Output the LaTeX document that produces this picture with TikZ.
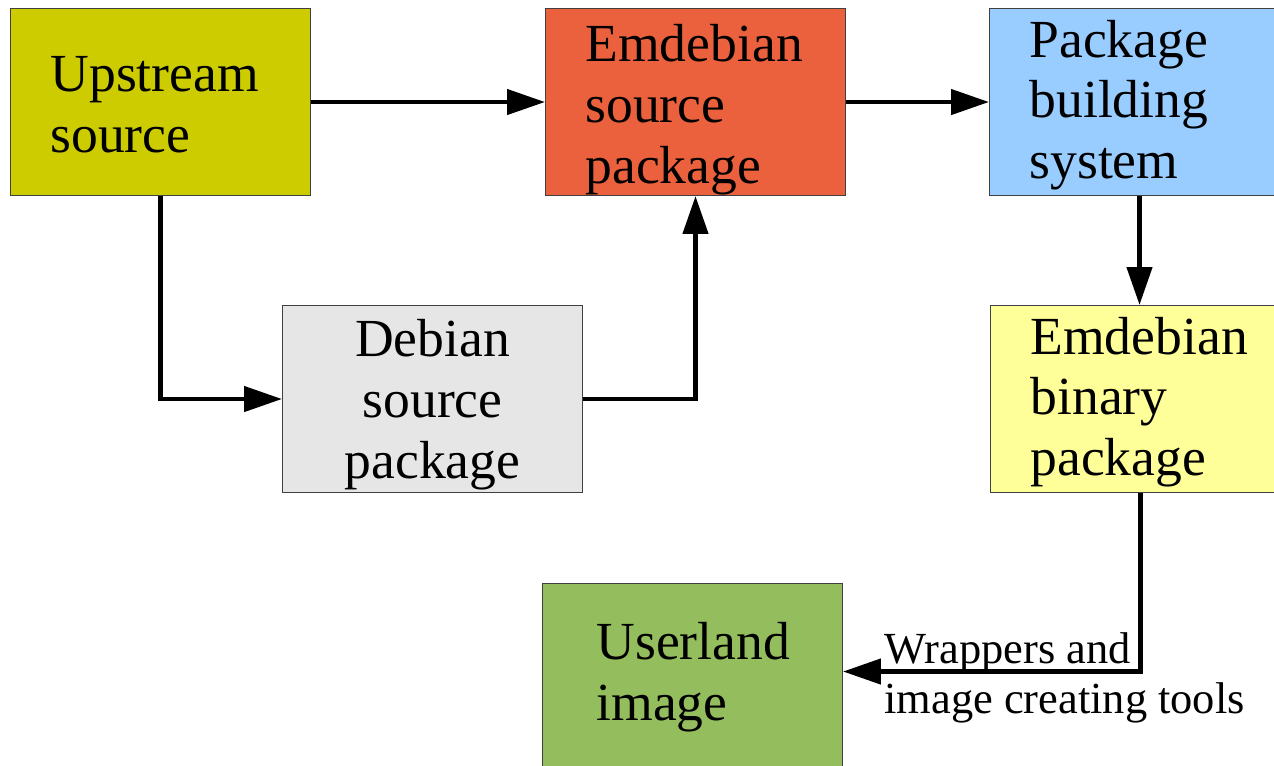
\documentclass[tikz,border=0pt]{standalone}
\usepackage{fontspec}
\setmainfont{Liberation Serif}
\usetikzlibrary{arrows.meta}
\definecolor{upstreamcol}{HTML}{CCCC00}
\definecolor{emsourcecol}{HTML}{EB613D}
\definecolor{buildcol}{HTML}{99CCFF}
\definecolor{debsourcecol}{HTML}{E6E6E6}
\definecolor{embinarycol}{HTML}{FFFF99}
\definecolor{userlandcol}{HTML}{94BD5E}
\def\topgap#1{\rule{0pt}{#1}}

\begin{document}
\begin{tikzpicture}[x=0.02cm, y=-0.02cm,
		box/.style={draw=black!75, line width=0.6pt, anchor=north west, minimum width=6cm, minimum height=3.74cm, inner xsep=8mm, inner ysep=0pt, text width=4.4cm, align=left, font=\fontsize{30.5pt}{34.7pt}\selectfont},
		flow/.style={line width=2.6pt, -{Triangle[length=21.6pt, width=14.2pt]}}]
			%%%%% START %%%%%
			\useasboundingbox (0, 0) rectangle (1274, 765);
			
			\node[box, fill=upstreamcol] (upstream) at (10, 8) {\topgap{8mm}Upstream\\source};
			\node[box, fill=emsourcecol] (emsource) at (545, 8) {\topgap{10.5mm}Emdebian\\source\\package};
			\node[box, fill=buildcol] (build) at (989, 8) {\topgap{8.7mm}Package\\building\\system};
			
			\node[box, fill=debsourcecol, align=center] (debsource) at (282, 305) {\topgap{9.7mm}Debian\\source\\package};
			\node[box, fill=embinarycol] (embinary) at (990, 305) {\topgap{8.7mm}Emdebian\\binary\\package};
			
			\node[box, fill=userlandcol, inner xsep=10.8mm, text width=3.84cm] (userland) at (542, 583) {Userland\\image};
			
			\draw[flow] (upstream) -- (emsource);
			\draw[flow] (emsource) -- (build);
			\draw[flow] (build.south) -- (build.south |- embinary.north);
			\draw[flow] (upstream.south) |- (debsource);
			\draw[flow] (debsource.east) -| (emsource.south);
			\draw[flow] (embinary.south) |- ([yshift=1.1mm]userland.east);
			
			\node[anchor=north west, inner sep=0pt, align=left, font=\fontsize{25.3pt}{28.45pt}\selectfont] (tools) at (884, 632) {Wrappers and\\image creating tools};
			%%%%% END %%%%%
\end{tikzpicture}
\end{document}
